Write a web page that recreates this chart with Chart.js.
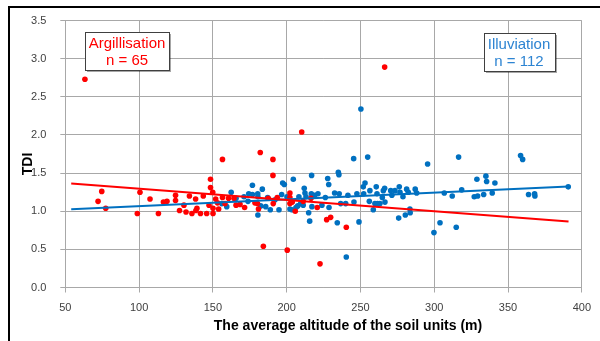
<!DOCTYPE html>
<html>
<head>
<meta charset="utf-8">
<script src="https://cdn.jsdelivr.net/npm/chart.js@4.4.1/dist/chart.umd.min.js"></script>
<style>
  html, body { margin: 0; padding: 0; background: #ffffff; }
  #wrap { width: 600px; height: 341px; }
</style>
</head>
<body>
<div id="wrap"><canvas id="chart" width="600" height="341"></canvas></div>
<script>
// Argillisation soil units: average altitude (m) and TDI
const altitudeArg = [63.3, 72.2, 74.7, 77.4, 98.8, 100.6, 107.4, 113.1, 116.5, 118.9,
  124.7, 124.7, 127.4, 130.4, 134.1, 135.8, 138.3, 138.5, 141.6, 143.5,
  145.8, 148.4, 148.4, 149.9, 150.1, 150.1, 151.9, 153.1, 153.9, 156.5,
  156.5, 160.6, 164.3, 168.4, 171.5, 178.5, 180.2, 180.9, 182.1, 184.2,
  190.7, 190.7, 190.9, 193.6, 187.5, 200.4, 202.2, 202.2, 202.2, 203.8,
  205.8, 211.2, 216.5, 220.7, 222.6, 227.1, 229.8, 240.4, 210.2, 266.4,
  131.8, 139.2, 147.4, 165.7, 158.2];
const tdiArg = [2.73, 1.13, 1.26, 1.04, 0.97, 1.25, 1.16, 0.97, 1.12, 1.13,
  1.21, 1.14, 1.01, 1.08, 1.20, 0.97, 1.16, 1.01, 0.97, 1.20,
  0.97, 1.42, 1.31, 1.25, 1.04, 0.97, 1.16, 1.11, 1.03, 1.68,
  1.18, 1.17, 1.17, 1.09, 1.05, 1.11, 1.10, 1.03, 1.77, 0.54,
  1.68, 1.47, 1.10, 1.18, 1.17, 0.49, 1.24, 1.18, 1.10, 1.12,
  1.00, 1.13, 1.17, 1.05, 0.31, 0.89, 0.92, 0.79, 2.04, 2.89,
  0.99, 1.04, 1.08, 1.08, 1.10];

// Illuviation soil units: average altitude (m) and TDI
const altitudeIll = [156.0, 159.4, 162.4, 174.3, 173.8, 176.8, 176.8, 180.5, 180.5, 183.5,
  185.8, 187.1, 188.9, 192.1, 194.8, 196.6, 197.3, 198.4, 202.2, 204.5,
  203.6, 206.3, 207.5, 209.5, 211.2, 211.9, 212.4, 213.1, 214.9, 215.6,
  216.9, 216.7, 219.0, 217.1, 226.2, 227.8, 228.5, 228.7, 232.5, 234.3,
  235.0, 235.4, 235.6, 236.6, 240.0, 240.4, 245.4, 245.6, 249.0, 250.3,
  252.2, 251.9, 253.1, 254.9, 256.0, 258.7, 259.8, 260.7, 261.2, 261.6,
  263.2, 264.8, 265.5, 266.4, 266.6, 270.5, 271.3, 276.3, 276.8, 275.9,
  280.4, 281.3, 282.4, 283.5, 283.7, 287.1, 288.1, 295.5, 299.8, 303.9,
  306.8, 312.2, 314.9, 316.5, 318.6, 327.1, 329.4, 328.9, 333.5, 335.0,
  335.5, 341.1, 339.3, 358.5, 359.9, 363.9, 368.0, 368.2, 390.8, 180.4,
  182.4, 171.1, 165.7, 200.2, 208.3, 221.2, 223.9, 241.5, 247.6, 256.4,
  273.4, 278.8];
const tdiIll = [1.10, 1.06, 1.25, 1.23, 1.13, 1.34, 1.22, 1.19, 0.95, 1.29,
  1.06, 1.18, 1.02, 1.15, 1.02, 1.22, 1.37, 1.35, 1.03, 1.42,
  1.02, 1.05, 1.07, 1.10, 1.08, 1.30, 1.24, 1.19, 0.98, 0.87,
  1.47, 1.23, 1.21, 1.06, 1.18, 1.43, 1.35, 1.05, 1.24, 0.85,
  1.51, 1.48, 1.23, 1.10, 1.10, 0.40, 1.69, 1.12, 0.86, 2.34,
  1.23, 1.32, 1.37, 1.71, 1.13, 1.02, 1.10, 1.32, 1.23, 1.10,
  1.10, 1.18, 1.27, 1.30, 1.12, 1.27, 1.21, 1.32, 1.25, 0.91,
  0.95, 1.29, 1.25, 1.03, 0.98, 1.29, 1.24, 1.62, 0.72, 0.85,
  1.24, 1.20, 0.79, 1.71, 1.28, 1.19, 1.20, 1.42, 1.22, 1.46,
  1.39, 1.37, 1.24, 1.73, 1.68, 1.22, 1.23, 1.20, 1.32, 1.23,
  1.07, 1.19, 1.17, 1.19, 1.19, 1.23, 1.08, 1.21, 1.23, 1.27,
  1.27, 1.19];

// Linear trend lines (TDI = intercept + slope * altitude) over the plotted span
const trendSpan = [54, 391];
const trendArg = { intercept: 1.442, slope: -0.001477 };
const trendIll = { intercept: 0.977, slope: 0.000887 };

// Axis ticks
const xTicks = [50, 100, 150, 200, 250, 300, 350, 400];
const yTicks = [0.0, 0.5, 1.0, 1.5, 2.0, 2.5, 3.0, 3.5];

const RED = '#ff0000';
const BLUE = '#0070c0';
const GRID = '#a8a8a8';
const FONT = '"Liberation Sans", Arial, sans-serif';

const toPoints = (xs, ys) => xs.map((x, i) => ({ x: x, y: ys[i] }));
const trendPoints = (t) => trendSpan.map(x => ({ x: x, y: t.intercept + t.slope * x }));

// Frame, axis titles and the two group labels
const decorations = {
  id: 'decorations',
  afterDraw(chart) {
    const ctx = chart.ctx;
    ctx.save();

    // outer frame (top and left edges)
    ctx.strokeStyle = '#000000';
    ctx.lineWidth = 2;
    ctx.beginPath();
    ctx.moveTo(9, 341);
    ctx.lineTo(9, 7);
    ctx.lineTo(600, 7);
    ctx.stroke();

    // axis titles
    ctx.fillStyle = '#000000';
    ctx.font = 'bold 14px ' + FONT;
    ctx.textAlign = 'center';
    ctx.textBaseline = 'middle';
    ctx.fillText('The average altitude of the soil units (m)', 348, 326);
    ctx.save();
    ctx.translate(28, 164);
    ctx.rotate(-Math.PI / 2);
    ctx.fillText('TDI', 0, 0);
    ctx.restore();

    // group label boxes
    const box = (cx, top, w, h, color, lines) => {
      const left = Math.round(cx - w / 2) + 0.5;
      ctx.fillStyle = 'rgba(0,0,0,0.35)';
      ctx.fillRect(left + 1.5, top + 1.5, w, h);
      ctx.fillStyle = '#ffffff';
      ctx.fillRect(left, top, w, h);
      ctx.strokeStyle = '#404040';
      ctx.lineWidth = 1;
      ctx.strokeRect(left, top, w, h);
      ctx.fillStyle = color;
      ctx.font = '15px ' + FONT;
      ctx.textAlign = 'center';
      ctx.textBaseline = 'middle';
      lines.forEach((s, i) => ctx.fillText(s, cx, top + 11 + i * 17.8));
    };
    box(127, 32.5, 84, 38, RED, ['Argillisation', 'n = ' + altitudeArg.length]);
    box(519, 33.5, 71, 38, '#2d84d2', ['Illuviation', 'n = ' + altitudeIll.length]);

    ctx.restore();
  }
};

new Chart(document.getElementById('chart'), {
  type: 'scatter',
  data: {
    datasets: [
      {
        label: 'Argillisation trend',
        type: 'line',
        data: trendPoints(trendArg),
        borderColor: RED,
        borderWidth: 2,
        pointRadius: 0,
        fill: false
      },
      {
        label: 'Illuviation trend',
        type: 'line',
        data: trendPoints(trendIll),
        borderColor: BLUE,
        borderWidth: 2,
        pointRadius: 0,
        fill: false
      },
      {
        label: 'Argillisation',
        data: toPoints(altitudeArg, tdiArg),
        backgroundColor: RED,
        borderColor: RED,
        borderWidth: 0,
        pointRadius: 2.8
      },
      {
        label: 'Illuviation',
        data: toPoints(altitudeIll, tdiIll),
        backgroundColor: BLUE,
        borderColor: BLUE,
        borderWidth: 0,
        pointRadius: 2.8
      }
    ]
  },
  options: {
    responsive: false,
    animation: false,
    devicePixelRatio: 1,
    layout: { padding: { top: 19, right: 18, bottom: 0, left: 0 } },
    plugins: {
      legend: { display: false },
      tooltip: { enabled: false }
    },
    scales: {
      x: {
        type: 'linear',
        min: xTicks[0],
        max: xTicks[xTicks.length - 1],
        afterBuildTicks: (s) => { s.ticks = xTicks.map(v => ({ value: v })); },
        afterFit: (s) => { s.height = 53.5; },
        grid: { color: GRID, lineWidth: 1, tickLength: 5, tickColor: GRID },
        border: { color: GRID, width: 1 },
        ticks: {
          color: '#404040',
          font: { family: FONT, size: 11 },
          padding: 9,
          maxRotation: 0,
          callback: (v) => String(v)
        }
      },
      y: {
        type: 'linear',
        min: yTicks[0],
        max: yTicks[yTicks.length - 1],
        afterBuildTicks: (s) => { s.ticks = yTicks.map(v => ({ value: v })); },
        afterFit: (s) => { s.width = 65.3; },
        grid: { color: GRID, lineWidth: 1, tickLength: 5, tickColor: GRID },
        border: { color: GRID, width: 1 },
        ticks: {
          color: '#404040',
          font: { family: FONT, size: 11 },
          padding: 14,
          callback: (v) => Number(v).toFixed(1)
        }
      }
    }
  },
  plugins: [decorations]
});
</script>
</body>
</html>
